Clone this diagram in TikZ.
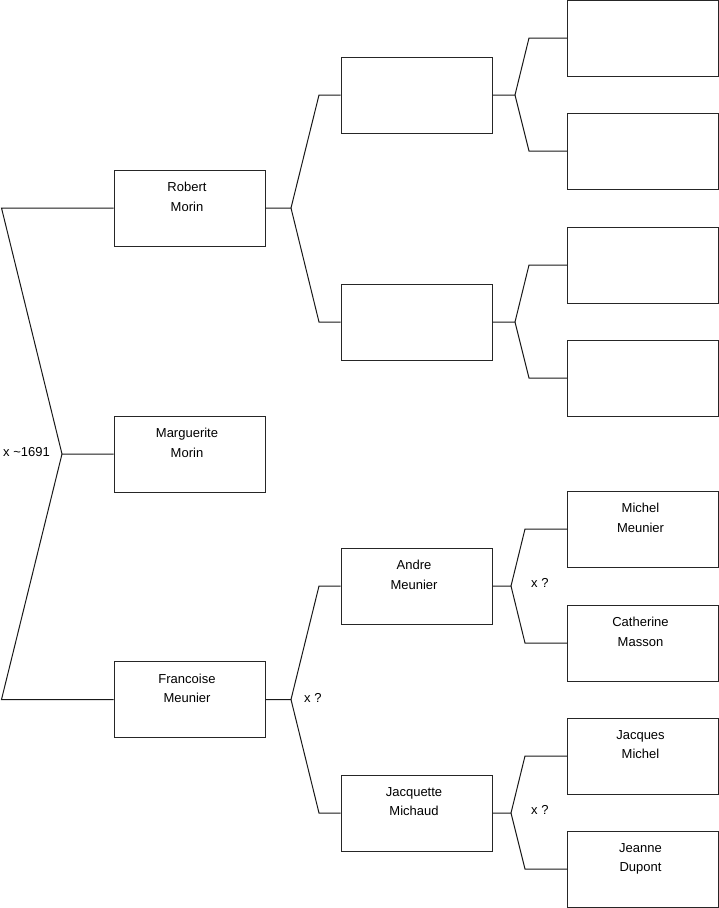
\documentclass[tikz,border=0pt]{standalone}
\usepackage{fontspec}
\setmainfont{Liberation Sans}
\begin{document}
\begin{tikzpicture}[x=1pt,y=-1pt,
  box/.style={draw=black!85,line width=1pt,minimum width=151pt,minimum height=76pt,inner sep=0pt},
  pname/.style={anchor=north,align=center,inner sep=0pt,font=\fontsize{13}{19.5}\selectfont},
  lab/.style={inner sep=0pt,font=\fontsize{13}{15}\selectfont},
  conn/.style={draw=black!90,line width=1pt,line join=miter}]
\useasboundingbox (0,0) rectangle (719,908);
% level 1
\node[box] (rm) at (189.5,208) {};
\node[box] (mm) at (189.5,454) {};
\node[box] (fm) at (189.5,699.5) {};
% level 2
\node[box] (pa) at (416.5,95) {};
\node[box] (pb) at (416.5,322) {};
\node[box] (am) at (416.5,586) {};
\node[box] (jm) at (416.5,813) {};
% level 3
\node[box] (g1) at (643,38) {};
\node[box] (g2) at (643,151) {};
\node[box] (g3) at (643,265) {};
\node[box] (g4) at (643,378) {};
\node[box] (g5) at (643,529) {};
\node[box] (g6) at (643,643) {};
\node[box] (g7) at (643,756) {};
\node[box] (g8) at (643,869) {};
% names
\tikzset{nm/.style={xshift=-2.5pt,yshift=-12.5pt}}
\node[pname] (t1) at ([nm]rm.north) {Robert\\Morin};
\node[pname] (t2) at ([nm]mm.north) {Marguerite\\Morin};
\node[pname] (t3) at ([nm]fm.north) {Francoise\\Meunier};
\node[pname] (t4) at ([nm]am.north) {Andre\\Meunier};
\node[pname] (t5) at ([nm]jm.north) {Jacquette\\Michaud};
\node[pname] (t6) at ([nm]g5.north) {Michel\\Meunier};
\node[pname] (t7) at ([nm]g6.north) {Catherine\\Masson};
\node[pname] (t8) at ([nm]g7.north) {Jacques\\Michel};
\node[pname] (t9) at ([nm]g8.north) {Jeanne\\Dupont};
% bend coordinates
\coordinate (j0) at (62,454);
\coordinate (a0) at (1.5,208);
\coordinate (b0) at (1.5,699.5);
\coordinate (j1) at (291,208);
\coordinate (a1) at (319,95);
\coordinate (b1) at (319,322);
\coordinate (j2) at (291,699.5);
\coordinate (a2) at (319,586);
\coordinate (b2) at (319,813);
\coordinate (j3) at (515,95);
\coordinate (a3) at (529,38);
\coordinate (b3) at (529,151);
\coordinate (j4) at (515,322);
\coordinate (a4) at (529,265);
\coordinate (b4) at (529,378);
\coordinate (j5) at (511,586);
\coordinate (a5) at (525,529);
\coordinate (b5) at (525,643);
\coordinate (j6) at (511,813);
\coordinate (a6) at (525,756);
\coordinate (b6) at (525,869);
% connectors
\draw[conn] (mm.west) -- (j0) -- (a0) -- (rm.west);
\draw[conn] (j0) -- (b0) -- (fm.west);
\draw[conn] (rm.east) -- (j1) -- (a1) -- (pa.west);
\draw[conn] (j1) -- (b1) -- (pb.west);
\draw[conn] (fm.east) -- (j2) -- (a2) -- (am.west);
\draw[conn] (j2) -- (b2) -- (jm.west);
\draw[conn] (pa.east) -- (j3) -- (a3) -- (g1.west);
\draw[conn] (j3) -- (b3) -- (g2.west);
\draw[conn] (pb.east) -- (j4) -- (a4) -- (g3.west);
\draw[conn] (j4) -- (b4) -- (g4.west);
\draw[conn] (am.east) -- (j5) -- (a5) -- (g5.west);
\draw[conn] (j5) -- (b5) -- (g6.west);
\draw[conn] (jm.east) -- (j6) -- (a6) -- (g7.west);
\draw[conn] (j6) -- (b6) -- (g8.west);
% marriage labels
\node[lab,anchor=east] (l0) at (50,452) {x \textasciitilde1691};
\node[lab,anchor=west] (l1) at (304,698) {x ?};
\node[lab,anchor=west] (l2) at (531,583) {x ?};
\node[lab,anchor=west] (l3) at (531,810) {x ?};
\end{tikzpicture}
\end{document}
